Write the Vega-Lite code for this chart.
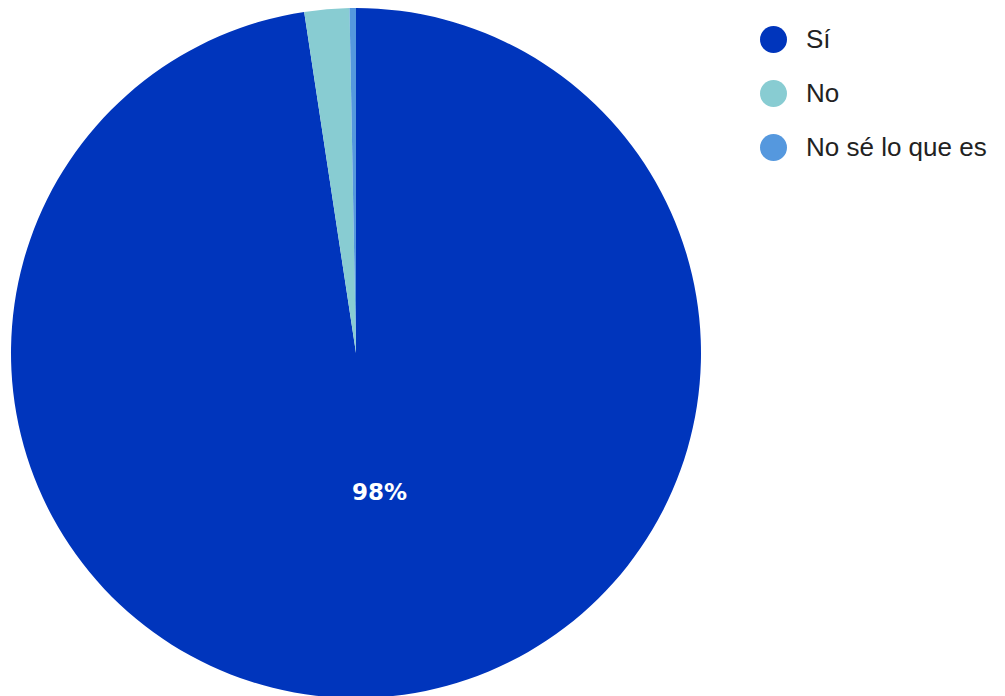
{
  "$schema": "https://vega.github.io/schema/vega-lite/v6.json",
  "width": 712,
  "height": 706,
  "padding": {"left": 0, "top": 0, "right": 293, "bottom": 0},
  "autosize": {"type": "none"},
  "background": "white",
  "config": {"view": {"stroke": null}},
  "data": {"values": [
    {"respuesta": "Sí", "valor": 97.6, "orden": 1, "etiqueta": "98%"},
    {"respuesta": "No", "valor": 2.1, "orden": 2, "etiqueta": ""},
    {"respuesta": "No sé lo que es", "valor": 0.3, "orden": 3, "etiqueta": ""}
  ]},
  "encoding": {
    "theta": {"field": "valor", "type": "quantitative", "stack": true},
    "order": {"field": "orden", "type": "quantitative"}
  },
  "layer": [
    {
      "mark": {"type": "arc", "outerRadius": 345},
      "encoding": {
        "color": {
          "field": "respuesta",
          "type": "nominal",
          "sort": ["Sí", "No", "No sé lo que es"],
          "scale": {"domain": ["Sí", "No", "No sé lo que es"], "range": ["#0035BC", "#88CCD2", "#5598DE"]},
          "legend": {
            "title": null,
            "orient": "none",
            "legendX": 760,
            "legendY": 26,
            "symbolType": "circle",
            "symbolSize": 729,
            "symbolStrokeWidth": 0,
            "labelFont": "Liberation Sans",
            "labelFontSize": 26,
            "labelColor": "#222222",
            "labelOffset": 19,
            "labelLimit": 300,
            "rowPadding": 27,
            "padding": 0
          }
        }
      }
    },
    {
      "mark": {"type": "text", "radius": 140, "dx": 13, "font": "DejaVu Sans", "fontWeight": "bold", "fontSize": 23, "fill": "white"},
      "encoding": {"text": {"field": "etiqueta", "type": "nominal"}}
    }
  ]
}
